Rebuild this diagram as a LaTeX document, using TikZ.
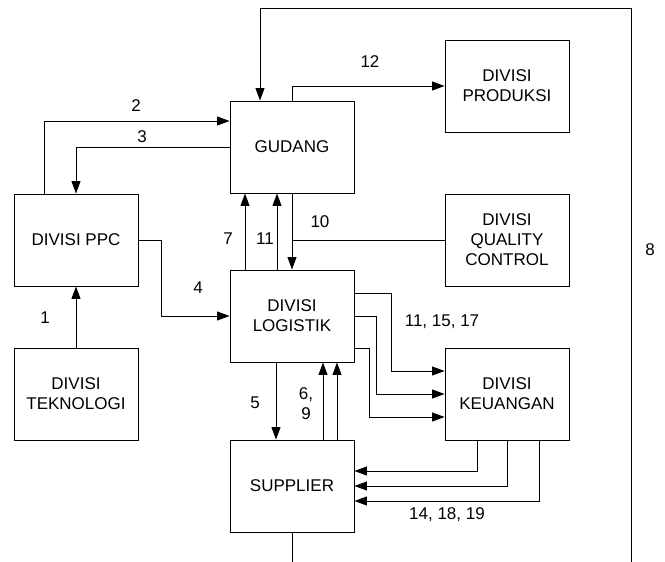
\documentclass[tikz,border=0pt]{standalone}
\usepackage{fontspec}
\setmainfont{Liberation Sans}
\usetikzlibrary{arrows.meta}
\tikzset{
  kotak/.style={draw, line width=0.9pt, minimum width=124pt, minimum height=92pt, align=center, inner sep=0pt},
  label/.style={align=center, inner sep=0pt}
}
\begin{document}
\begin{tikzpicture}[x=1pt, y=-1pt, >={Triangle[length=12.5pt,width=9pt]}, line width=0.9pt,
    font=\fontsize{17}{20}\selectfont]
    \useasboundingbox (0,0) rectangle (665,562);
    % 1. Kotak-kotak divisi
    \node[kotak] (gudang) at (292,147) {GUDANG};
    \node[kotak] (produksi) at (507,86) {DIVISI\\PRODUKSI};
    \node[kotak] (ppc) at (76,240) {DIVISI PPC};
    \node[kotak] (qc) at (507,240) {DIVISI\\QUALITY\\CONTROL};
    \node[kotak] (logistik) at (292,316) {DIVISI\\LOGISTIK};
    \node[kotak] (teknologi) at (76,394) {DIVISI\\TEKNOLOGI};
    \node[kotak] (keuangan) at (507,394) {DIVISI\\KEUANGAN};
    \node[kotak] (supplier) at (292,486) {SUPPLIER};
    \coordinate (pojok) at (631,8);
    \coordinate (bawah) at (631,562);

    % 2. Alur antar divisi
    \draw[->] (teknologi) -- (ppc);
    \draw[->] ([xshift=-31.5pt]ppc.north) |- ([yshift=26pt]gudang.west);
    \draw[->] (gudang.west) -| (ppc.north);
    \draw[->] (ppc.east) -- ++(23,0) |- (logistik.west);
    \draw[->] ([xshift=-47pt]logistik.north) -- ([xshift=-47pt]gudang.south);
    \draw[->] ([xshift=-15pt]logistik.north) -- ([xshift=-15pt]gudang.south);
    \draw[->] (gudang) -- (logistik);
    \draw (qc.west) -- (qc.west -| gudang.south);
    \draw[->] (gudang.north) |- (produksi.west);
    \draw[->] (bawah) -- (pojok) -| ([xshift=-32pt]gudang.north);
    \draw (supplier.south) -- (supplier.south |- bawah);

    % 3. Logistik, supplier dan keuangan
    \draw[->] ([xshift=-16pt]logistik.south) -- ([xshift=-16pt]supplier.north);
    \draw[->] ([xshift=31pt]supplier.north) -- ([xshift=31pt]logistik.south);
    \draw[->] ([xshift=45pt]supplier.north) -- ([xshift=45pt]logistik.south);
    \draw[->] ([yshift=23pt]logistik.east) -- ++(37,0) |- ([yshift=23pt]keuangan.west);
    \draw[->] (logistik.east) -- ++(22,0) |- (keuangan.west);
    \draw[->] ([yshift=-32pt]logistik.east) -- ++(15,0) |- ([yshift=-23pt]keuangan.west);
    \draw[->] ([xshift=-30pt]keuangan.south) |- ([yshift=15pt]supplier.east);
    \draw[->] (keuangan.south) |- (supplier.east);
    \draw[->] ([xshift=32pt]keuangan.south) |- ([yshift=-15pt]supplier.east);

    % 4. Nomor alur
    \node[label] (n1) at (45,318) {1};
    \node[label] (n2) at (136,106) {2};
    \node[label] (n3) at (142,137) {3};
    \node[label] (n4) at (198,288) {4};
    \node[label] (n5) at (255,403) {5};
    \node[label] (n69) at (306,404) {6,\\9};
    \node[label] (n7) at (228,239) {7};
    \node[label] (n8) at (650,250) {8};
    \node[label] (n10) at (320,222) {10};
    \node[label] (n11) at (265,239) {11};
    \node[label] (n12) at (370,62) {12};
    \node[label] (n111517) at (442,322) {11, 15, 17};
    \node[label] (n141819) at (447,515) {14, 18, 19};
\end{tikzpicture}
\end{document}
